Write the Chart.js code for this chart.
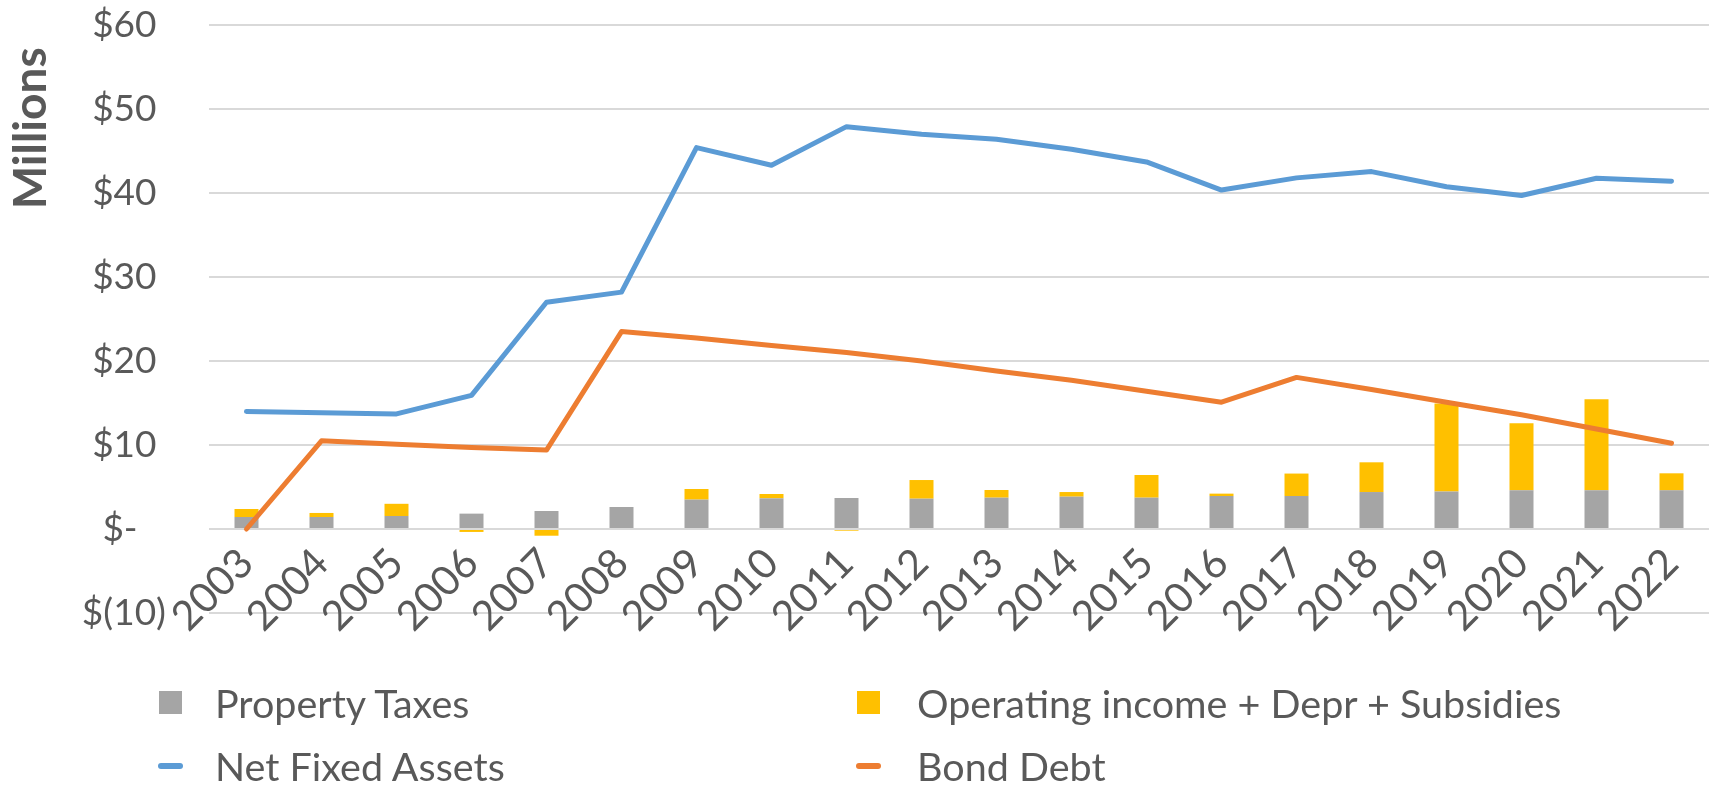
<!DOCTYPE html>
<html>
<head>
<meta charset="utf-8">
<script src="https://cdn.jsdelivr.net/npm/chart.js@4"></script>
<style>
  body { margin: 0; background: #fff; }
  #wrap { position: relative; width: 1715px; height: 786px; font-family: Lato, sans-serif; color: #595959; }
  #chart { position: absolute; left: 0; top: 0; }
  .lg { position: absolute; font-size: 39.5px; line-height: 46px; white-space: nowrap; }
  .sq { position: absolute; width: 23px; height: 23px; }
  .ln { position: absolute; width: 25px; height: 6px; border-radius: 3px; }
</style>
</head>
<body>
<div id="wrap">
  <canvas id="chart" width="1715" height="786"></canvas>
  <div class="sq" style="left:159px;top:691px;background:#A5A5A5"></div>
  <div class="lg" style="left:215px;top:680px">Property Taxes</div>
  <div class="sq" style="left:857px;top:691px;background:#FFC000"></div>
  <div class="lg" style="left:917px;top:680px">Operating income + Depr + Subsidies</div>
  <div class="ln" style="left:158px;top:763px;background:#5B9BD5"></div>
  <div class="lg" style="left:215px;top:743px">Net Fixed Assets</div>
  <div class="ln" style="left:856px;top:763px;background:#ED7D31"></div>
  <div class="lg" style="left:917px;top:743px">Bond Debt</div>
</div>
<script>
// values in $ millions
var years = ['2003','2004','2005','2006','2007','2008','2009','2010','2011','2012',
             '2013','2014','2015','2016','2017','2018','2019','2020','2021','2022'];
var propertyTaxes = [1.43, 1.43, 1.55, 1.83, 2.14, 2.62, 3.5, 3.65, 3.69, 3.61,
                     3.73, 3.85, 3.73, 3.93, 3.93, 4.4, 4.45, 4.6, 4.6, 4.6];
var operatingIncome = [0.95, 0.48, 1.45, -0.35, -0.8, 0, 1.26, 0.52, -0.2, 2.22,
                       0.91, 0.55, 2.7, 0.28, 2.67, 3.54, 10.5, 8.0, 10.84, 2.03];
var netFixedAssets = [14.0, 13.85, 13.7, 15.9, 27.0, 28.2, 45.4, 43.3, 47.9, 47.0,
                      46.4, 45.2, 43.7, 40.35, 41.8, 42.55, 40.75, 39.7, 41.75, 41.4];
var bondDebt = [0, 10.5, 10.1, 9.7, 9.4, 23.5, 22.75, 21.85, 21.0, 20.0,
                18.8, 17.7, 16.4, 15.1, 18.05, 16.6, 15.1, 13.6, 11.9, 10.2];
var yMin = -10, yMax = 60, yStep = 10;

Chart.defaults.font.family = 'Lato';
Chart.defaults.color = '#595959';

var ctx = document.getElementById('chart').getContext('2d');
var myChart = new Chart(ctx, {
    type: 'bar',
    data: {
        labels: years,
        datasets: [{
            label: 'Property Taxes',
            data: propertyTaxes,
            backgroundColor: '#A5A5A5',
            stack: 'bars',
            order: 2,
            barPercentage: 0.32,
            categoryPercentage: 1
        },
        {
            label: 'Operating income + Depr + Subsidies',
            data: operatingIncome,
            backgroundColor: '#FFC000',
            stack: 'bars',
            order: 2,
            barPercentage: 0.32,
            categoryPercentage: 1
        },
        {
            type: 'line',
            label: 'Net Fixed Assets',
            data: netFixedAssets,
            borderColor: '#5B9BD5',
            borderWidth: 5,
            borderCapStyle: 'round',
            borderJoinStyle: 'round',
            pointRadius: 0,
            stack: 'nfa',
            order: 1
        },
        {
            type: 'line',
            label: 'Bond Debt',
            data: bondDebt,
            borderColor: '#ED7D31',
            borderWidth: 5,
            borderCapStyle: 'round',
            borderJoinStyle: 'round',
            pointRadius: 0,
            stack: 'bond',
            order: 1
        }]
    },
    options: {
        responsive: false,
        animation: false,
        layout: { padding: { top: 25, right: 6, bottom: 173, left: 0 } },
        plugins: { legend: { display: false }, tooltip: { enabled: false } },
        scales: {
            x: {
                // category labels hang from the $0 line, like Excel
                position: { y: 0 },
                grid: { drawOnChartArea: false, drawTicks: true, tickLength: 10, tickColor: 'rgba(0,0,0,0)' },
                border: { display: false },
                ticks: {
                    autoSkip: false,
                    minRotation: 45,
                    maxRotation: 45,
                    padding: 0,
                    font: { size: 41 }
                }
            },
            y: {
                stacked: true,
                min: yMin,
                max: yMax,
                afterFit: function (scale) { scale.width = 209; },
                grid: { color: '#D9D9D9', lineWidth: 2, drawTicks: true, tickLength: 43, tickColor: 'rgba(0,0,0,0)' },
                border: { display: false },
                title: {
                    display: true,
                    text: 'Millions  ',
                    align: 'end',
                    font: { size: 46, weight: 'bold' },
                    padding: { top: 4, bottom: 0 }
                },
                ticks: {
                    stepSize: yStep,
                    padding: 0,
                    font: { size: 37 },
                    callback: function (v) {
                        if (v === 0) return '$-   ';
                        if (v < 0) return '$(' + (-v) + ')';
                        return '$' + v + ' ';
                    }
                }
            }
        }
    }
});
</script>
</body>
</html>
